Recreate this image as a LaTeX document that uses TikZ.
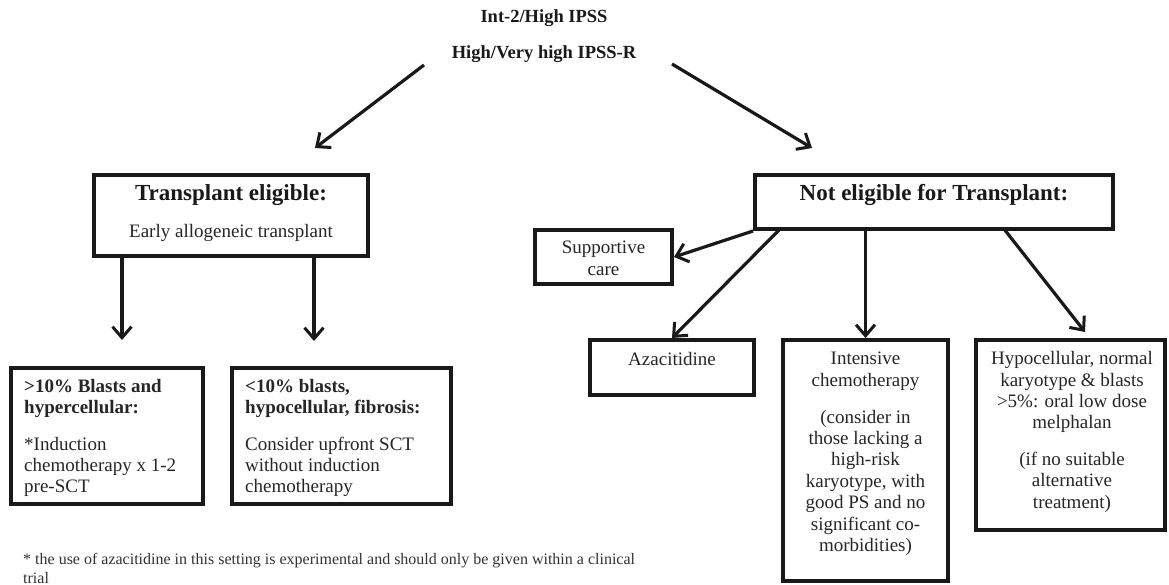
\documentclass[tikz,border=0pt]{standalone}
\usepackage{fontspec}
\setmainfont{Liberation Serif}
\usetikzlibrary{arrows.meta,calc}
\newcommand\mystrut{\rule{0pt}{15pt}}
\newcommand\mysmallstrut{\rule{0pt}{12pt}}
\begin{document}
\begin{tikzpicture}[x=1pt,y=-1pt,
  box/.style={draw=black!90, line width=4pt, inner sep=0pt},
  arr/.style={line width=3.2pt, draw=black!90, -{Straight Barb[length=11pt,width=19pt,line width=3pt]}},
  txt/.style={inner sep=0pt, text=black!85, font=\fontsize{19}{21.4}\selectfont},
  hdr/.style={inner sep=0pt, text=black!90, font=\fontsize{23}{26}\selectfont\bfseries},
  ttl/.style={inner sep=0pt, text=black!90, font=\fontsize{18.5}{22}\selectfont\bfseries},
  note/.style={inner sep=0pt, text=black!80, font=\fontsize{16}{19}\selectfont, align=left, anchor=north west}
]
\path[use as bounding box, fill=white] (0,0) rectangle (1169,585);

% title
\node[ttl, anchor=base] (t1) at (544,23) {Int-2/High IPSS};
\node[ttl, anchor=base] (t2) at (544,59) {High/Very high IPSS-R};

% boxes
\node[box, minimum width=274pt, minimum height=81pt] (tb) at (231,215.5) {};
\node[box, minimum width=192pt, minimum height=136pt] (b1) at (107,436) {};
\node[box, minimum width=219pt, minimum height=136pt] (b2) at (341.5,436) {};
\node[box, minimum width=358pt, minimum height=54pt] (ne) at (934,202) {};
\node[box, minimum width=137pt, minimum height=54pt] (sc) at (603.5,257) {};
\node[box, minimum width=164pt, minimum height=55pt] (az) at (672,367.5) {};
\node[box, minimum width=165pt, minimum height=241pt] (ic) at (865.5,460.5) {};
\node[box, minimum width=189pt, minimum height=190pt] (hy) at (1070.5,435) {};

% box texts
\node[hdr, anchor=base] (tbh) at (231,201) {Transplant eligible:};
\node[txt, anchor=base] (tbb) at (231,238) {Early allogeneic transplant};
\node[hdr, anchor=base] (neh) at (934,201) {Not eligible for Transplant:};
\node[txt, align=center, anchor=north] (sct) at (603.5,238.5) {\mystrut Supportive\\care};
\node[txt, anchor=base] (azt) at (672,365) {Azacitidine};
\node[txt, align=center, anchor=north] (ict) at (865.5,349.5) {\mystrut Intensive\\chemotherapy\\[15.6pt](consider in\\those lacking a\\high-risk\\karyotype, with\\good PS and no\\significant co-\\morbidities)};
\node[txt, align=center, anchor=north] (hyt) at (1072,349.5) {\mystrut Hypocellular, normal\\karyotype \& blasts\\>5\%: oral low dose\\melphalan\\[15pt](if no suitable\\alternative\\treatment)};
\node[txt, align=left, anchor=north west] (b1t) at (24,377) {\mystrut\textbf{>10\% Blasts and}\\\textbf{hypercellular:}\\[15pt]*Induction\\chemotherapy x 1-2\\pre-SCT};
\node[txt, align=left, anchor=north west] (b2t) at (245,377) {\mystrut\textbf{<10\% blasts,}\\\textbf{hypocellular, fibrosis:}\\[15pt]Consider upfront SCT\\without induction\\chemotherapy};

% footnote
\node[note] (fn) at (23,552) {\mysmallstrut * the use of azacitidine in this setting is experimental and should only be given within a clinical\\trial};

% connectors
\coordinate (la1) at (424,65);
\coordinate (la2) at (315,148);
\coordinate (ra1) at (672,64);
\coordinate (ra2) at (812,148);
\draw[arr] (la1) -- (la2);
\draw[arr] (ra1) -- (ra2);
\coordinate (d1) at (122,340);
\coordinate (d2) at (314,341);
\draw[arr] (tb.south -| d1) -- (d1);
\draw[arr] (tb.south -| d2) -- (d2);
\draw[arr] (ne.south west) -- (sc.east);
\coordinate (s2) at (780,229);
\draw[arr] (s2) -- (az.north);
\draw[arr] (ne.south -| ic.north) -- (ic.north);
\coordinate (s4) at (1004,229);
\coordinate (e4) at (1085,332);
\draw[arr] (s4) -- (e4);
\end{tikzpicture}
\end{document}
